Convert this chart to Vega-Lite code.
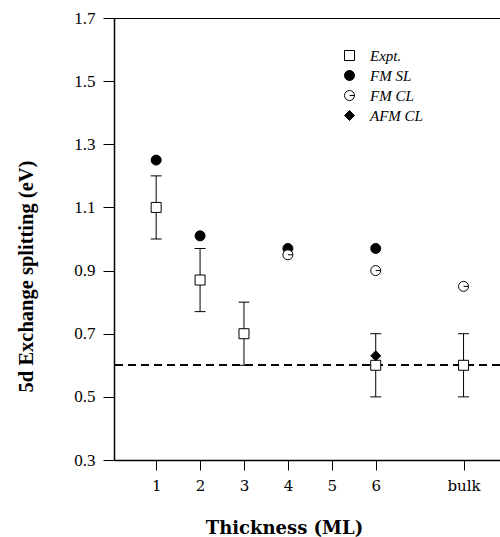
{
  "$schema": "https://vega.github.io/schema/vega-lite/v6.json",
  "autosize": {"type": "none"},
  "padding": {"left": 114, "top": 18, "right": 0, "bottom": 77},
  "width": 386,
  "height": 442,
  "background": "white",
  "data": {"values": [
    {"series": "FM SL", "x": 1, "y": 1.25},
    {"series": "FM SL", "x": 2, "y": 1.01},
    {"series": "FM SL", "x": 4, "y": 0.97},
    {"series": "FM SL", "x": 6, "y": 0.97},
    {"series": "FM CL", "x": 4, "y": 0.95},
    {"series": "FM CL", "x": 6, "y": 0.90},
    {"series": "FM CL", "x": 8, "y": 0.85},
    {"series": "Expt.", "x": 1, "y": 1.10, "lo": 1.00, "hi": 1.20},
    {"series": "Expt.", "x": 2, "y": 0.87, "lo": 0.77, "hi": 0.97},
    {"series": "Expt.", "x": 3, "y": 0.70, "lo": 0.60, "hi": 0.80},
    {"series": "Expt.", "x": 6, "y": 0.60, "lo": 0.50, "hi": 0.70},
    {"series": "Expt.", "x": 8, "y": 0.60, "lo": 0.50, "hi": 0.70},
    {"series": "AFM CL", "x": 6, "y": 0.63}
  ]},
  "layer": [
    {
      "mark": {"type": "rule", "color": "black", "strokeWidth": 1, "clip": true},
      "encoding": {
        "y": {"datum": 1.7, "type": "quantitative", "scale": {"domain": [0.3, 1.7], "nice": false, "zero": false},
              "axis": {"title": "5d Exchange splitting (eV)", "values": [0.3, 0.5, 0.7, 0.9, 1.1, 1.3, 1.5, 1.7], "format": ".1f"}}
      }
    },
    {
      "mark": {"type": "rule", "color": "black", "strokeWidth": 1, "strokeDash": [8, 5], "clip": true},
      "encoding": {
        "y": {"datum": 0.6, "type": "quantitative", "scale": {"domain": [0.3, 1.7], "nice": false, "zero": false},
              "axis": {"title": "5d Exchange splitting (eV)", "values": [0.3, 0.5, 0.7, 0.9, 1.1, 1.3, 1.5, 1.7], "format": ".1f"}}
      }
    },
    {
      "transform": [{"filter": "isValid(datum.lo)"}],
      "mark": {"type": "rule", "color": "black", "strokeWidth": 1, "clip": true},
      "encoding": {
        "x": {"field": "x", "type": "quantitative", "scale": {"domain": [0.04, 8.83], "nice": false, "zero": false},
              "axis": {"title": "Thickness (ML)", "values": [1, 2, 3, 4, 5, 6, 8], "labelExpr": "datum.value == 8 ? 'bulk' : datum.label"}},
        "y": {"field": "lo", "type": "quantitative", "scale": {"domain": [0.3, 1.7], "nice": false, "zero": false},
              "axis": {"title": "5d Exchange splitting (eV)", "values": [0.3, 0.5, 0.7, 0.9, 1.1, 1.3, 1.5, 1.7], "format": ".1f"}},
        "y2": {"field": "hi"}
      }
    },
    {
      "transform": [{"filter": "isValid(datum.lo)"}],
      "mark": {"type": "tick", "orient": "horizontal", "size": 11, "thickness": 1, "color": "black", "opacity": 1, "clip": true},
      "encoding": {
        "x": {"field": "x", "type": "quantitative", "scale": {"domain": [0.04, 8.83], "nice": false, "zero": false},
              "axis": {"title": "Thickness (ML)", "values": [1, 2, 3, 4, 5, 6, 8], "labelExpr": "datum.value == 8 ? 'bulk' : datum.label"}},
        "y": {"field": "lo", "type": "quantitative", "scale": {"domain": [0.3, 1.7], "nice": false, "zero": false},
              "axis": {"title": "5d Exchange splitting (eV)", "values": [0.3, 0.5, 0.7, 0.9, 1.1, 1.3, 1.5, 1.7], "format": ".1f"}}
      }
    },
    {
      "transform": [{"filter": "isValid(datum.lo)"}],
      "mark": {"type": "tick", "orient": "horizontal", "size": 11, "thickness": 1, "color": "black", "opacity": 1, "clip": true},
      "encoding": {
        "x": {"field": "x", "type": "quantitative", "scale": {"domain": [0.04, 8.83], "nice": false, "zero": false},
              "axis": {"title": "Thickness (ML)", "values": [1, 2, 3, 4, 5, 6, 8], "labelExpr": "datum.value == 8 ? 'bulk' : datum.label"}},
        "y": {"field": "hi", "type": "quantitative", "scale": {"domain": [0.3, 1.7], "nice": false, "zero": false},
              "axis": {"title": "5d Exchange splitting (eV)", "values": [0.3, 0.5, 0.7, 0.9, 1.1, 1.3, 1.5, 1.7], "format": ".1f"}}
      }
    },
    {
      "mark": {"type": "point", "filled": true, "strokeWidth": 1, "opacity": 1, "size": 100, "clip": true},
      "encoding": {
        "x": {"field": "x", "type": "quantitative", "scale": {"domain": [0.04, 8.83], "nice": false, "zero": false},
              "axis": {"title": "Thickness (ML)", "values": [1, 2, 3, 4, 5, 6, 8], "labelExpr": "datum.value == 8 ? 'bulk' : datum.label"}},
        "y": {"field": "y", "type": "quantitative", "scale": {"domain": [0.3, 1.7], "nice": false, "zero": false},
              "axis": {"title": "5d Exchange splitting (eV)", "values": [0.3, 0.5, 0.7, 0.9, 1.1, 1.3, 1.5, 1.7], "format": ".1f"}},
        "shape": {
          "field": "series", "type": "nominal",
          "scale": {
            "domain": ["Expt.", "FM SL", "FM CL", "AFM CL"],
            "range": ["square", "circle", "M-1,0A1,1,0,1,1,1,0A1,1,0,1,1,-1,0M0,0L1,0", "diamond"]
          },
          "legend": {"title": null}
        },
        "fill": {
          "field": "series", "type": "nominal",
          "scale": {
            "domain": ["Expt.", "FM SL", "FM CL", "AFM CL"],
            "range": ["white", "black", "white", "black"]
          },
          "legend": {"title": null}
        },
        "stroke": {
          "field": "series", "type": "nominal",
          "scale": {
            "domain": ["Expt.", "FM SL", "FM CL", "AFM CL"],
            "range": ["black", "black", "black", "black"]
          },
          "legend": {"title": null}
        }
      }
    }
  ],
  "config": {
    "view": {"stroke": null},
    "axisX": {
      "grid": false,
      "domainColor": "black", "domainWidth": 1.5,
      "tickColor": "black", "tickWidth": 1, "tickSize": 10,
      "labelColor": "black", "labelFont": "DejaVu Serif", "labelFontSize": 15, "labelPadding": 8,
      "titleColor": "black", "titleFont": "DejaVu Serif", "titleFontWeight": "bold", "titleFontSize": 18,
      "titleX": 170, "titleY": 73, "titleBaseline": "alphabetic"
    },
    "axisY": {
      "grid": false,
      "domainColor": "black", "domainWidth": 1.5,
      "tickColor": "black", "tickWidth": 1, "tickSize": 11,
      "labelColor": "black", "labelFont": "Liberation Serif", "labelFontSize": 17, "labelPadding": 8,
      "titleColor": "black", "titleFont": "Liberation Serif", "titleFontWeight": "bold", "titleFontSize": 20.5,
      "titleX": -82, "titleY": 258, "titleBaseline": "alphabetic", "titleAngle": -90
    },
    "legend": {
      "orient": "none",
      "legendX": 228,
      "legendY": 30,
      "padding": 0,
      "labelFont": "Liberation Serif",
      "labelFontStyle": "italic",
      "labelFontSize": 15,
      "labelColor": "black",
      "labelOffset": 13,
      "symbolSize": 100,
      "symbolStrokeColor": "black",
      "symbolStrokeWidth": 1,
      "rowPadding": 4
    }
  }
}
